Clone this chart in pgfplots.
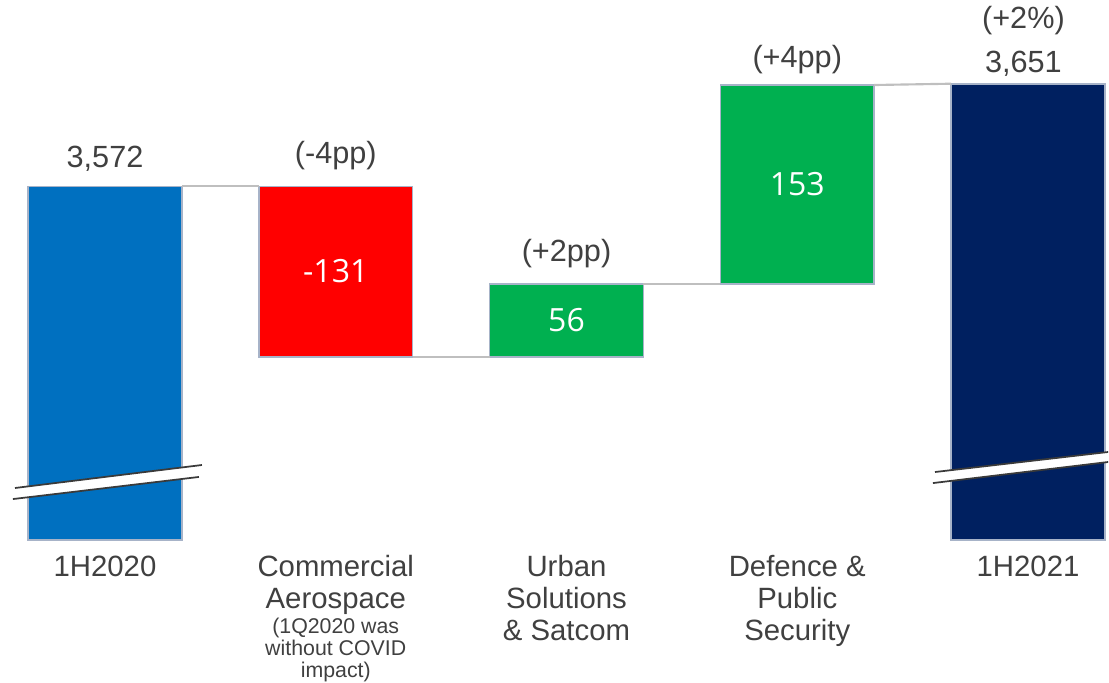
\documentclass[border=0pt]{standalone}
\usepackage{pgfplots}
\pgfplotsset{compat=1.18}
\usepackage{fontspec}
\setmainfont{Liberation Sans}
\newfontfamily\numfont{Open Sans}
\definecolor{cblue}{HTML}{0070C0}
\definecolor{cred}{HTML}{FF0000}
\definecolor{cgreen}{HTML}{00B050}
\definecolor{cnavy}{HTML}{002060}
\definecolor{cborder}{HTML}{A7B3C8}
\definecolor{cconn}{HTML}{BFBFBF}
\definecolor{ctext}{HTML}{404040}
\definecolor{cbreak}{HTML}{3A3A3A}
\newcommand{\smallf}{\fontsize{16}{16.5}\selectfont}
\begin{document}
\begin{tikzpicture}
\path[use as bounding box] (0,-106.5pt) rectangle (831.75pt,405pt);
\begin{axis}[
  at={(0,0)}, anchor=south west,
  scale only axis, width=831.75pt, height=405pt,
  xmin=-0.4550, xmax=4.3510, ymin=3300, ymax=3715.4,
  clip=false,
  axis line style={draw=none},
  tick style={draw=none},
  ytick=\empty,
  xtick={0,1,2,3,4},
  xticklabels={1H2020,
    {Commercial\\Aerospace\\[-5pt]\smallf (1Q2020 was\\[-7.3pt]\smallf without COVID\\[-7.3pt]\smallf impact)},
    {Urban\\Solutions\\\& Satcom},
    {Defence \&\\Public\\Security},
    1H2021},
  xticklabel style={anchor=north, inner sep=0pt, yshift=-11.5pt, align=center,
    font=\fontsize{22}{23.8}\selectfont, text=ctext},
  bar/.style={draw=cborder, line width=1.2pt},
  conn/.style={draw=cconn, line width=1.6pt},
]
% bars: rectangles from base to top
\addplot[bar, fill=cblue]  coordinates {(-0.333,3300) (0.333,3300) (0.333,3572) (-0.333,3572)} -- cycle;
\addplot[bar, fill=cred]   coordinates {(0.667,3441) (1.333,3441) (1.333,3572) (0.667,3572)} -- cycle;
\addplot[bar, fill=cgreen] coordinates {(1.667,3441) (2.333,3441) (2.333,3497) (1.667,3497)} -- cycle;
\addplot[bar, fill=cgreen] coordinates {(2.667,3497) (3.333,3497) (3.333,3650) (2.667,3650)} -- cycle;
\addplot[bar, fill=cnavy]  coordinates {(3.667,3300) (4.333,3300) (4.333,3651) (3.667,3651)} -- cycle;
% connectors
\addplot[conn] coordinates {(0.333,3572) (0.667,3572)};
\addplot[conn] coordinates {(1.333,3441) (1.667,3441)};
\addplot[conn] coordinates {(2.333,3497) (2.667,3497)};
\addplot[conn] coordinates {(3.333,3650) (3.667,3651)};
% axis breaks
\fill[white] (axis cs:-0.390,3340.0) -- (axis cs:0.420,3357.7) -- (axis cs:0.407,3348.5) -- (axis cs:-0.399,3331.5) -- cycle;
\draw[cbreak, line width=1.3pt] (axis cs:-0.390,3340.0) -- (axis cs:0.420,3357.7);
\draw[cbreak, line width=1.3pt] (axis cs:-0.399,3331.5) -- (axis cs:0.407,3348.5);
\fill[white] (axis cs:3.597,3352.3) -- (axis cs:4.347,3367.7) -- (axis cs:4.347,3360.0) -- (axis cs:3.588,3343.8) -- cycle;
\draw[cbreak, line width=1.3pt] (axis cs:3.597,3352.3) -- (axis cs:4.347,3367.7);
\draw[cbreak, line width=1.3pt] (axis cs:3.588,3343.8) -- (axis cs:4.347,3360.0);
% value labels
\begin{scope}[every node/.style={text=ctext, font=\fontsize{23}{25}\selectfont, anchor=base}]
\node at (axis cs:0,3586.9) {3,572};
\node at (axis cs:1,3590) {(-4pp)};
\node at (axis cs:2,3514) {(+2pp)};
\node at (axis cs:3,3663.8) {(+4pp)};
\node at (axis cs:3.98,3693.8) {(+2\%)};
\node at (axis cs:3.98,3660) {3,651};
\end{scope}
\begin{scope}[every node/.style={text=white, font=\numfont\fontsize{24}{26}\selectfont, anchor=center}]
\node at (axis cs:1,3506.5) {-131};
\node at (axis cs:2,3469) {56};
\node at (axis cs:3,3573.5) {153};
\end{scope}
\end{axis}
\end{tikzpicture}
\end{document}
